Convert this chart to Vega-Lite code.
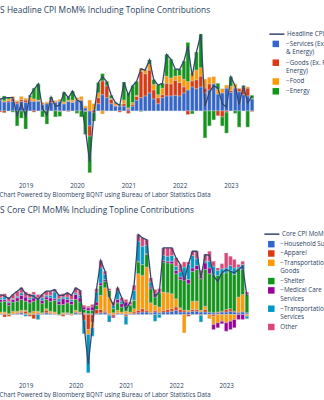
{
"$schema": "https://vega.github.io/schema/vega-lite/v6.json",
"background": "white",
"padding": {"left": -6, "top": 4.9, "right": 0, "bottom": 0},
"spacing": 8.3,
"config": {"view": {"stroke": null}, "font": "Open Sans"},
"resolve": {"scale": {"color": "independent", "stroke": "independent", "x": "independent", "y": "independent"}, "legend": {"color": "independent", "stroke": "independent"}},
"vconcat": [
{
"width": 266, "height": 153,
"title": {"text": "US Headline CPI MoM% Including Topline Contributions", "anchor": "start", "fontSize": 8.4, "fontWeight": "normal", "color": "#2a3f5f", "offset": 10.7},
"data": {"values": [
{"d":"2018-07-01","c1":0.18,"c2":-0.02,"c3":0.01,"c4":0.02,"h":0.19},
{"d":"2018-08-01","c1":0.15,"c2":-0.03,"c3":0.02,"c4":0.08,"h":0.22},
{"d":"2018-09-01","c1":0.15,"c2":0.02,"c3":0.03,"c4":0.02,"h":0.22},
{"d":"2018-10-01","c1":0.16,"c2":0.04,"c3":0.04,"c4":-0.02,"h":0.22},
{"d":"2018-11-01","c1":0.12,"c2":0.03,"c3":0.02,"c4":-0.25,"h":-0.08},
{"d":"2018-12-01","c1":0.16,"c2":0.03,"c3":0.05,"c4":-0.12,"h":0.12},
{"d":"2019-01-01","c1":0.14,"c2":0.04,"c3":0.03,"c4":-0.30,"h":-0.09},
{"d":"2019-02-01","c1":0.16,"c2":0.02,"c3":0.05,"c4":0.03,"h":0.26},
{"d":"2019-03-01","c1":0.16,"c2":-0.02,"c3":0.04,"c4":0.18,"h":0.36},
{"d":"2019-04-01","c1":0.16,"c2":0.01,"c3":0.01,"c4":0.27,"h":0.45},
{"d":"2019-05-01","c1":0.10,"c2":0.01,"c3":0.03,"c4":-0.10,"h":0.04},
{"d":"2019-06-01","c1":0.12,"c2":0.02,"c3":0.01,"c4":-0.22,"h":-0.07},
{"d":"2019-07-01","c1":0.14,"c2":0.04,"c3":0.01,"c4":0.04,"h":0.23},
{"d":"2019-08-01","c1":0.14,"c2":0.02,"c3":0.01,"c4":-0.10,"h":0.07},
{"d":"2019-09-01","c1":0.16,"c2":-0.01,"c3":0.03,"c4":-0.08,"h":0.10},
{"d":"2019-10-01","c1":0.12,"c2":0.00,"c3":0.03,"c4":0.16,"h":0.31},
{"d":"2019-11-01","c1":0.16,"c2":-0.01,"c3":0.02,"c4":0.05,"h":0.22},
{"d":"2019-12-01","c1":0.14,"c2":0.01,"c3":0.03,"c4":0.15,"h":0.33},
{"d":"2020-01-01","c1":0.17,"c2":0.02,"c3":0.03,"c4":-0.04,"h":0.18},
{"d":"2020-02-01","c1":0.17,"c2":0.02,"c3":0.05,"c4":-0.10,"h":0.14},
{"d":"2020-03-01","c1":0.05,"c2":-0.01,"c3":0.03,"c4":-0.38,"h":-0.31},
{"d":"2020-04-01","c1":-0.25,"c2":-0.17,"c3":0.18,"c4":-0.61,"h":-0.85},
{"d":"2020-05-01","c1":0.02,"c2":-0.03,"c3":0.10,"c4":-0.14,"h":-0.05},
{"d":"2020-06-01","c1":0.12,"c2":0.10,"c3":0.08,"c4":0.17,"h":0.47},
{"d":"2020-07-01","c1":0.27,"c2":0.23,"c3":-0.05,"c4":0.12,"h":0.57},
{"d":"2020-08-01","c1":0.22,"c2":0.20,"c3":0.00,"c4":0.07,"h":0.49},
{"d":"2020-09-01","c1":0.12,"c2":0.07,"c3":0.02,"c4":0.05,"h":0.26},
{"d":"2020-10-01","c1":0.08,"c2":0.01,"c3":0.03,"c4":0.02,"h":0.14},
{"d":"2020-11-01","c1":0.08,"c2":-0.02,"c3":0.01,"c4":0.02,"h":0.09},
{"d":"2020-12-01","c1":0.08,"c2":0.04,"c3":0.06,"c4":0.30,"h":0.48},
{"d":"2021-01-01","c1":0.03,"c2":-0.04,"c3":0.02,"c4":0.25,"h":0.26},
{"d":"2021-02-01","c1":0.08,"c2":0.03,"c3":0.03,"c4":0.28,"h":0.42},
{"d":"2021-03-01","c1":0.18,"c2":0.06,"c3":0.02,"c4":0.23,"h":0.49},
{"d":"2021-04-01","c1":0.22,"c2":0.44,"c3":0.05,"c4":-0.01,"h":0.70},
{"d":"2021-05-01","c1":0.25,"c2":0.37,"c3":0.06,"c4":0.00,"h":0.68},
{"d":"2021-06-01","c1":0.30,"c2":0.38,"c3":0.10,"c4":0.07,"h":0.85},
{"d":"2021-07-01","c1":0.20,"c2":0.15,"c3":0.09,"c4":0.08,"h":0.52},
{"d":"2021-08-01","c1":0.12,"c2":0.10,"c3":0.05,"c4":0.16,"h":0.43},
{"d":"2021-09-01","c1":0.22,"c2":0.05,"c3":0.11,"c4":0.08,"h":0.46},
{"d":"2021-10-01","c1":0.25,"c2":0.21,"c3":0.12,"c4":0.36,"h":0.94},
{"d":"2021-11-01","c1":0.25,"c2":0.20,"c3":0.10,"c4":0.31,"h":0.86},
{"d":"2021-12-01","c1":0.26,"c2":0.25,"c3":0.07,"c4":0.12,"h":0.70},
{"d":"2022-01-01","c1":0.25,"c2":0.22,"c3":0.12,"c4":0.10,"h":0.69},
{"d":"2022-02-01","c1":0.30,"c2":0.10,"c3":0.13,"c4":0.30,"h":0.83},
{"d":"2022-03-01","c1":0.35,"c2":-0.06,"c3":0.14,"c4":0.65,"h":1.08},
{"d":"2022-04-01","c1":0.40,"c2":0.10,"c3":0.13,"c4":-0.05,"h":0.58},
{"d":"2022-05-01","c1":0.37,"c2":0.15,"c3":0.16,"c4":0.30,"h":0.98},
{"d":"2022-06-01","c1":0.40,"c2":0.18,"c3":0.14,"c4":0.56,"h":1.28},
{"d":"2022-07-01","c1":0.30,"c2":0.08,"c3":0.15,"c4":-0.45,"h":0.08},
{"d":"2022-08-01","c1":0.35,"c2":0.10,"c3":0.11,"c4":-0.25,"h":0.31},
{"d":"2022-09-01","c1":0.45,"c2":0.01,"c3":0.11,"c4":-0.15,"h":0.42},
{"d":"2022-10-01","c1":0.28,"c2":-0.08,"c3":0.08,"c4":0.10,"h":0.38},
{"d":"2022-11-01","c1":0.30,"c2":-0.10,"c3":0.07,"c4":-0.15,"h":0.12},
{"d":"2022-12-01","c1":0.38,"c2":-0.02,"c3":0.05,"c4":-0.35,"h":0.06},
{"d":"2023-01-01","c1":0.31,"c2":0.03,"c3":0.07,"c4":0.16,"h":0.57},
{"d":"2023-02-01","c1":0.38,"c2":0.01,"c3":0.06,"c4":-0.04,"h":0.41},
{"d":"2023-03-01","c1":0.32,"c2":0.05,"c3":0.01,"c4":-0.27,"h":0.11},
{"d":"2023-04-01","c1":0.27,"c2":0.12,"c3":0.00,"c4":0.03,"h":0.42},
{"d":"2023-05-01","c1":0.25,"c2":0.13,"c3":0.02,"c4":-0.27,"h":0.13},
{"d":"2023-06-01","c1":0.20,"c2":-0.01,"c3":0.01,"c4":0.05,"h":0.25}
]},
"encoding": {
  "x": {"field": "d", "type": "temporal",
    "scale": {"domain": [{"year": 2018, "month": 6, "date": 25, "utc": true}, {"year": 2023, "month": 6, "date": 22, "utc": true}]},
    "axis": {"values": [{"year": 2019, "month": 1, "date": 1, "utc": true}, {"year": 2020, "month": 1, "date": 1, "utc": true}, {"year": 2021, "month": 1, "date": 1, "utc": true}, {"year": 2022, "month": 1, "date": 1, "utc": true}, {"year": 2023, "month": 1, "date": 1, "utc": true}],
      "labelExpr": "utcFormat(datum.value, '%Y')", "grid": false, "ticks": false, "tickSize": 0, "domain": false,
      "labelFontSize": 6.3, "labelColor": "#2a3f5f", "labelPadding": 4.5, "labelFlush": false, "labelOverlap": false,
      "title": "Chart Powered by Bloomberg BQNT using Bureau of Labor Statistics Data",
      "titleFontSize": 6.2, "titleFontWeight": "normal", "titleColor": "#2a3f5f", "titleAnchor": "start", "titleAlign": "left", "titleX": 5, "titlePadding": 2.6}}
},
"layer": [
{
  "transform": [{"fold": ["c1", "c2", "c3", "c4"], "as": ["k", "v"]}],
  "mark": {"type": "bar", "width": 3.6, "stroke": "#d0d0d0", "strokeWidth": 0.4, "clip": true},
  "encoding": {
    "y": {"field": "v", "type": "quantitative", "stack": "zero",
      "scale": {"domain": [-1.1167, 1.4333], "nice": false, "zero": false},
      "axis": {"values": [-1.055, -0.5275, 0, 0.5275, 1.055], "labels": false, "ticks": false, "domain": false, "title": null, "grid": true, "gridColor": "#ebf0f8", "gridWidth": 1}},
    "color": {"field": "k", "type": "nominal",
      "scale": {"domain": ["c1", "c2", "c3", "c4"], "range": ["#3366CC", "#DC3912", "#FF9900", "#109618"]},
      "legend": {"orient": "none", "legendX": 278.3, "legendY": 15.5, "title": null, "padding": 0,
        "symbolType": "square", "symbolSize": 42, "symbolStrokeWidth": 0, "labelFontSize": 6.3, "labelColor": "#2a3f5f",
        "labelOffset": 6.8, "rowPadding": 2.8, "labelLimit": 300,
        "labelExpr": "datum.label == 'c1' ? ['−Services (Ex. Food', '& Energy)'] : datum.label == 'c2' ? ['−Goods (Ex. Food &', 'Energy)'] : datum.label == 'c3' ? '−Food' : '−Energy'"}},
    "order": {"field": "k", "sort": "ascending"}
  }
},
{
  "mark": {"type": "line", "strokeWidth": 1.3, "clip": true},
  "encoding": {
    "y": {"field": "h", "type": "quantitative", "axis": null},
    "stroke": {"datum": "Headline CPI (MoM%)", "scale": {"range": ["#34466b"]},
      "legend": {"orient": "none", "legendX": 279.75, "legendY": 6.1, "title": null, "padding": 0,
        "symbolType": "M-7.5,0H7.5", "symbolSize": 4, "symbolStrokeWidth": 1.5, "labelFontSize": 6.3, "labelColor": "#2a3f5f", "labelOffset": 7, "labelLimit": 300}}
  }
}
]
},
{
"width": 263, "height": 153,
"title": {"text": "US Core CPI MoM% Including Topline Contributions", "anchor": "start", "fontSize": 8.4, "fontWeight": "normal", "color": "#2a3f5f", "offset": 10.5},
"data": {"values": [
{"d":"2018-07-01","k1":0.01,"k2":0.00,"k3":0.02,"k4":0.12,"k5":0.03,"k6":0.02,"k7":0.04,"c":0.24},
{"d":"2018-08-01","k1":0.01,"k2":-0.03,"k3":0.02,"k4":0.13,"k5":0.02,"k6":0.03,"k7":0.04,"c":0.22},
{"d":"2018-09-01","k1":0.00,"k2":-0.02,"k3":0.01,"k4":0.10,"k5":0.03,"k6":0.02,"k7":0.05,"c":0.19},
{"d":"2018-10-01","k1":0.01,"k2":0.00,"k3":0.03,"k4":0.11,"k5":0.03,"k6":0.01,"k7":0.05,"c":0.24},
{"d":"2018-11-01","k1":0.01,"k2":0.01,"k3":0.02,"k4":0.12,"k5":0.04,"k6":0.02,"k7":0.06,"c":0.28},
{"d":"2018-12-01","k1":0.02,"k2":0.01,"k3":0.02,"k4":0.13,"k5":0.05,"k6":0.03,"k7":0.06,"c":0.32},
{"d":"2019-01-01","k1":0.01,"k2":0.03,"k3":0.01,"k4":0.11,"k5":0.05,"k6":-0.02,"k7":0.06,"c":0.25},
{"d":"2019-02-01","k1":0.00,"k2":-0.02,"k3":0.02,"k4":0.12,"k5":0.04,"k6":0.02,"k7":0.05,"c":0.23},
{"d":"2019-03-01","k1":0.01,"k2":-0.05,"k3":0.03,"k4":0.12,"k5":0.04,"k6":0.04,"k7":0.03,"c":0.22},
{"d":"2019-04-01","k1":0.01,"k2":0.01,"k3":0.02,"k4":0.14,"k5":0.02,"k6":-0.06,"k7":0.04,"c":0.18},
{"d":"2019-05-01","k1":0.01,"k2":0.00,"k3":0.01,"k4":0.11,"k5":0.04,"k6":0.03,"k7":0.04,"c":0.24},
{"d":"2019-06-01","k1":0.02,"k2":0.03,"k3":0.02,"k4":0.11,"k5":0.03,"k6":0.02,"k7":0.05,"c":0.28},
{"d":"2019-07-01","k1":0.01,"k2":0.01,"k3":0.02,"k4":0.12,"k5":0.04,"k6":0.03,"k7":0.05,"c":0.28},
{"d":"2019-08-01","k1":0.01,"k2":0.00,"k3":0.02,"k4":0.14,"k5":0.02,"k6":0.08,"k7":0.03,"c":0.30},
{"d":"2019-09-01","k1":0.00,"k2":-0.01,"k3":0.00,"k4":0.12,"k5":0.04,"k6":0.03,"k7":0.05,"c":0.23},
{"d":"2019-10-01","k1":0.01,"k2":-0.02,"k3":0.01,"k4":0.10,"k5":0.07,"k6":0.02,"k7":0.04,"c":0.23},
{"d":"2019-11-01","k1":0.01,"k2":0.00,"k3":0.01,"k4":0.12,"k5":0.04,"k6":0.03,"k7":0.05,"c":0.26},
{"d":"2019-12-01","k1":0.00,"k2":-0.01,"k3":0.01,"k4":0.11,"k5":0.04,"k6":0.02,"k7":0.06,"c":0.23},
{"d":"2020-01-01","k1":0.02,"k2":0.01,"k3":0.02,"k4":0.13,"k5":0.06,"k6":0.02,"k7":0.06,"c":0.32},
{"d":"2020-02-01","k1":0.01,"k2":0.01,"k3":0.01,"k4":0.12,"k5":0.05,"k6":0.03,"k7":0.06,"c":0.29},
{"d":"2020-03-01","k1":0.01,"k2":-0.07,"k3":0.01,"k4":0.04,"k5":0.03,"k6":-0.16,"k7":0.02,"c":-0.12},
{"d":"2020-04-01","k1":0.01,"k2":-0.18,"k3":-0.06,"k4":0.04,"k5":0.03,"k6":-0.46,"k7":0.02,"c":-0.60},
{"d":"2020-05-01","k1":0.01,"k2":-0.10,"k3":-0.06,"k4":0.04,"k5":0.04,"k6":-0.10,"k7":0.03,"c":-0.14},
{"d":"2020-06-01","k1":0.01,"k2":0.05,"k3":0.00,"k4":0.05,"k5":0.04,"k6":0.12,"k7":0.04,"c":0.31},
{"d":"2020-07-01","k1":0.02,"k2":0.04,"k3":0.17,"k4":0.12,"k5":0.03,"k6":0.18,"k7":0.09,"c":0.65},
{"d":"2020-08-01","k1":0.02,"k2":0.02,"k3":0.28,"k4":0.08,"k5":0.02,"k6":0.06,"k7":0.04,"c":0.52},
{"d":"2020-09-01","k1":0.01,"k2":-0.01,"k3":0.20,"k4":0.08,"k5":0.00,"k6":-0.08,"k7":0.02,"c":0.22},
{"d":"2020-10-01","k1":0.00,"k2":-0.02,"k3":0.02,"k4":0.05,"k5":-0.02,"k6":0.04,"k7":0.04,"c":0.11},
{"d":"2020-11-01","k1":0.01,"k2":0.01,"k3":0.03,"k4":0.09,"k5":0.04,"k6":0.10,"k7":0.04,"c":0.32},
{"d":"2020-12-01","k1":0.01,"k2":0.00,"k3":0.02,"k4":0.06,"k5":0.04,"k6":0.03,"k7":0.04,"c":0.20},
{"d":"2021-01-01","k1":0.01,"k2":-0.02,"k3":0.03,"k4":0.06,"k5":0.05,"k6":-0.10,"k7":0.03,"c":0.06},
{"d":"2021-02-01","k1":0.01,"k2":0.00,"k3":0.02,"k4":0.08,"k5":0.01,"k6":0.00,"k7":0.03,"c":0.15},
{"d":"2021-03-01","k1":0.01,"k2":0.02,"k3":0.04,"k4":0.10,"k5":0.00,"k6":0.12,"k7":0.06,"c":0.35},
{"d":"2021-04-01","k1":0.02,"k2":0.03,"k3":0.44,"k4":0.14,"k5":0.01,"k6":0.24,"k7":0.08,"c":0.96},
{"d":"2021-05-01","k1":0.03,"k2":0.04,"k3":0.40,"k4":0.13,"k5":0.00,"k6":0.22,"k7":0.10,"c":0.92},
{"d":"2021-06-01","k1":0.03,"k2":0.02,"k3":0.52,"k4":0.15,"k5":0.01,"k6":0.10,"k7":0.07,"c":0.90},
{"d":"2021-07-01","k1":0.02,"k2":0.00,"k3":0.12,"k4":0.17,"k5":0.02,"k6":0.06,"k7":0.05,"c":0.44},
{"d":"2021-08-01","k1":0.03,"k2":0.02,"k3":0.06,"k4":0.10,"k5":0.04,"k6":-0.08,"k7":0.05,"c":0.22},
{"d":"2021-09-01","k1":0.02,"k2":0.01,"k3":0.06,"k4":0.17,"k5":0.01,"k6":-0.04,"k7":0.04,"c":0.27},
{"d":"2021-10-01","k1":0.03,"k2":0.02,"k3":0.22,"k4":0.36,"k5":0.02,"k6":0.06,"k7":0.09,"c":0.80},
{"d":"2021-11-01","k1":0.03,"k2":0.03,"k3":0.20,"k4":0.36,"k5":0.02,"k6":0.06,"k7":0.10,"c":0.80},
{"d":"2021-12-01","k1":0.04,"k2":0.03,"k3":0.18,"k4":0.36,"k5":0.03,"k6":0.07,"k7":0.09,"c":0.80},
{"d":"2022-01-01","k1":0.05,"k2":0.04,"k3":0.10,"k4":0.30,"k5":0.04,"k6":0.05,"k7":0.10,"c":0.68},
{"d":"2022-02-01","k1":0.03,"k2":0.03,"k3":0.02,"k4":0.34,"k5":0.03,"k6":0.06,"k7":0.09,"c":0.60},
{"d":"2022-03-01","k1":0.03,"k2":0.02,"k3":-0.22,"k4":0.36,"k5":0.04,"k6":0.12,"k7":0.06,"c":0.41},
{"d":"2022-04-01","k1":0.03,"k2":-0.02,"k3":0.02,"k4":0.32,"k5":0.05,"k6":0.18,"k7":0.03,"c":0.61},
{"d":"2022-05-01","k1":0.04,"k2":0.02,"k3":0.10,"k4":0.36,"k5":0.04,"k6":0.15,"k7":0.05,"c":0.76},
{"d":"2022-06-01","k1":0.04,"k2":0.02,"k3":0.10,"k4":0.38,"k5":0.05,"k6":0.08,"k7":0.09,"c":0.76},
{"d":"2022-07-01","k1":0.03,"k2":-0.01,"k3":0.02,"k4":0.38,"k5":0.03,"k6":-0.08,"k7":0.07,"c":0.44},
{"d":"2022-08-01","k1":0.03,"k2":0.03,"k3":0.04,"k4":0.44,"k5":0.08,"k6":0.02,"k7":0.08,"c":0.72},
{"d":"2022-09-01","k1":0.03,"k2":0.00,"k3":-0.05,"k4":0.46,"k5":0.07,"k6":0.08,"k7":0.12,"c":0.71},
{"d":"2022-10-01","k1":0.02,"k2":-0.02,"k3":-0.10,"k4":0.46,"k5":-0.06,"k6":0.10,"k7":0.06,"c":0.46},
{"d":"2022-11-01","k1":0.02,"k2":0.01,"k3":-0.10,"k4":0.44,"k5":-0.06,"k6":0.06,"k7":0.03,"c":0.40},
{"d":"2022-12-01","k1":0.03,"k2":0.01,"k3":-0.08,"k4":0.46,"k5":-0.03,"k6":0.05,"k7":0.06,"c":0.50},
{"d":"2023-01-01","k1":0.03,"k2":0.03,"k3":-0.10,"k4":0.44,"k5":-0.10,"k6":0.06,"k7":0.18,"c":0.54},
{"d":"2023-02-01","k1":0.04,"k2":0.03,"k3":-0.08,"k4":0.46,"k5":-0.10,"k6":0.06,"k7":0.11,"c":0.52},
{"d":"2023-03-01","k1":0.03,"k2":0.01,"k3":-0.06,"k4":0.44,"k5":-0.10,"k6":0.08,"k7":0.10,"c":0.50},
{"d":"2023-04-01","k1":0.02,"k2":0.01,"k3":0.18,"k4":0.34,"k5":-0.06,"k6":0.02,"k7":0.03,"c":0.54},
{"d":"2023-05-01","k1":0.03,"k2":0.01,"k3":0.20,"k4":0.30,"k5":-0.06,"k6":0.06,"k7":0.04,"c":0.58},
{"d":"2023-06-01","k1":0.02,"k2":0.00,"k3":-0.02,"k4":0.22,"k5":0.00,"k6":-0.03,"k7":0.03,"c":0.22}
]},
"encoding": {
  "x": {"field": "d", "type": "temporal",
    "scale": {"domain": [{"year": 2018, "month": 6, "date": 21, "utc": true}, {"year": 2023, "month": 7, "date": 8, "utc": true}]},
    "axis": {"values": [{"year": 2019, "month": 1, "date": 1, "utc": true}, {"year": 2020, "month": 1, "date": 1, "utc": true}, {"year": 2021, "month": 1, "date": 1, "utc": true}, {"year": 2022, "month": 1, "date": 1, "utc": true}, {"year": 2023, "month": 1, "date": 1, "utc": true}],
      "labelExpr": "utcFormat(datum.value, '%Y')", "grid": false, "ticks": false, "tickSize": 0, "domain": false,
      "labelFontSize": 6.3, "labelColor": "#2a3f5f", "labelPadding": 4.5, "labelFlush": false, "labelOverlap": false,
      "title": "Chart Powered by Bloomberg BQNT using Bureau of Labor Statistics Data",
      "titleFontSize": 6.2, "titleFontWeight": "normal", "titleColor": "#2a3f5f", "titleAnchor": "start", "titleAlign": "left", "titleX": 5, "titlePadding": 2.6}}
},
"layer": [
{
  "transform": [{"fold": ["k1", "k2", "k3", "k4", "k5", "k6", "k7"], "as": ["k", "v"]}],
  "mark": {"type": "bar", "width": 3.5, "stroke": "#d0d0d0", "strokeWidth": 0.4, "clip": true},
  "encoding": {
    "y": {"field": "v", "type": "quantitative", "stack": "zero",
      "scale": {"domain": [-0.7656, 1.0733], "nice": false, "zero": false},
      "axis": {"values": [-0.75, -0.5, -0.25, 0, 0.25, 0.5, 0.75, 1.0], "labels": false, "ticks": false, "domain": false, "title": null, "grid": true, "gridColor": "#ebf0f8", "gridWidth": 1}},
    "color": {"field": "k", "type": "nominal",
      "scale": {"domain": ["k1", "k2", "k3", "k4", "k5", "k6", "k7"], "range": ["#3366CC", "#DC3912", "#FF9900", "#109618", "#990099", "#0099C6", "#DD4477"]},
      "legend": {"orient": "none", "legendX": 273.8, "legendY": 15.5, "title": null, "padding": 0,
        "symbolType": "square", "symbolSize": 42, "symbolStrokeWidth": 0, "labelFontSize": 6.3, "labelColor": "#2a3f5f",
        "labelOffset": 5.5, "rowPadding": 2.3, "labelLimit": 300,
        "labelExpr": "datum.label == 'k1' ? '−Household Supplies' : datum.label == 'k2' ? '−Apparel' : datum.label == 'k3' ? ['−Transportation', 'Goods'] : datum.label == 'k4' ? '−Shelter' : datum.label == 'k5' ? ['−Medical Care', 'Services'] : datum.label == 'k6' ? ['−Transportation', 'Services'] : 'Other'"}},
    "order": {"field": "k", "sort": "ascending"}
  }
},
{
  "mark": {"type": "line", "strokeWidth": 1.3, "clip": true},
  "encoding": {
    "y": {"field": "c", "type": "quantitative", "axis": null},
    "stroke": {"datum": "Core CPI MoM%", "scale": {"range": ["#34466b"]},
      "legend": {"orient": "none", "legendX": 274.75, "legendY": 5.8, "title": null, "padding": 0,
        "symbolType": "M-7.5,0H7.5", "symbolSize": 4, "symbolStrokeWidth": 1.5, "labelFontSize": 6.3, "labelColor": "#2a3f5f", "labelOffset": 7, "labelLimit": 300}}
  }
}
]
}
]
}
